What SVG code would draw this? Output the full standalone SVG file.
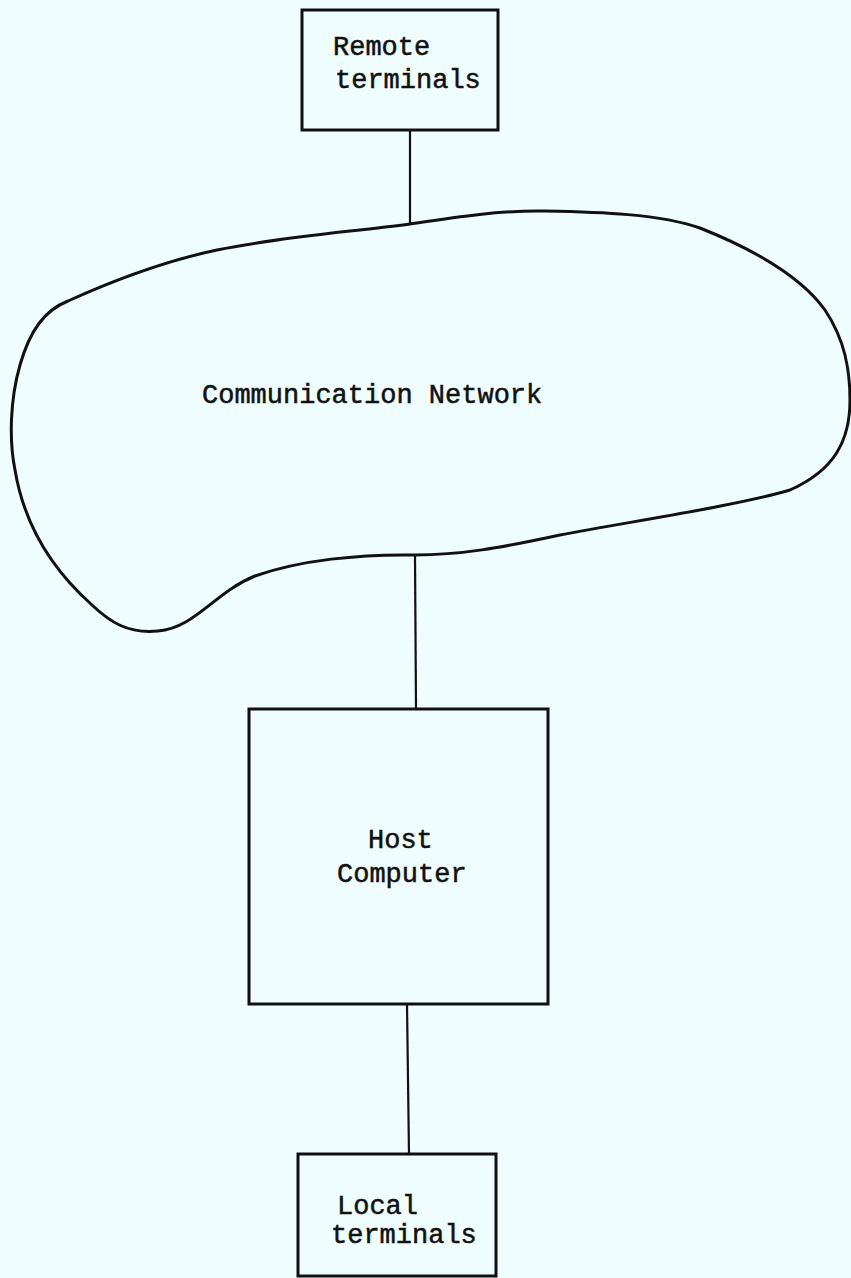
<svg xmlns="http://www.w3.org/2000/svg" width="851" height="1278" viewBox="0 0 851 1278">
<style>
.box{fill:none;stroke:#111;stroke-width:3}
.cloud{fill:none;stroke:#111;stroke-width:3;stroke-linejoin:round}
.conn{stroke:#111;stroke-width:2.2;fill:none}
.lbl{font-family:"Liberation Mono","DejaVu Sans Mono",monospace;font-size:27px;fill:#111;stroke:#111;stroke-width:0.5}
</style>
<rect width="851" height="1278" fill="#effdff"/>
<g id="connectors">
<line class="conn" x1="410" y1="130" x2="410" y2="224"/>
<line class="conn" x1="415" y1="555" x2="416" y2="709"/>
<line class="conn" x1="407" y1="1004" x2="409" y2="1154"/>
</g>
<g id="remote">
<rect class="box" x="302" y="10" width="196" height="120"/>
<text class="lbl" x="333" y="55">Remote</text>
<text class="lbl" x="335" y="88">terminals</text>
</g>
<g id="network">
<path class="cloud" d="M410 224 C450 218 500 210 545 211 C600 212 660 214 700 228 C750 248 800 275 825 310 C845 340 850 370 850 400 C850 440 835 470 790 490 C740 505 640 520 560 535 C500 548 460 555 415 555 C360 554 300 560 255 576 C215 592 195 628 158 631 C128 634 110 622 92 605 C55 572 25 530 15 470 C9 440 10 400 20 365 C30 330 45 310 68 301 C110 282 160 262 217 250 C280 237 350 232 410 224 Z"/>
<text class="lbl" x="202" y="403">Communication Network</text>
</g>
<g id="host">
<rect class="box" x="249" y="709" width="299" height="295"/>
<text class="lbl" x="368" y="848">Host</text>
<text class="lbl" x="337" y="882">Computer</text>
</g>
<g id="local">
<rect class="box" x="298" y="1154" width="198" height="122"/>
<text class="lbl" x="337" y="1214">Local</text>
<text class="lbl" x="331" y="1243">terminals</text>
</g>
</svg>
